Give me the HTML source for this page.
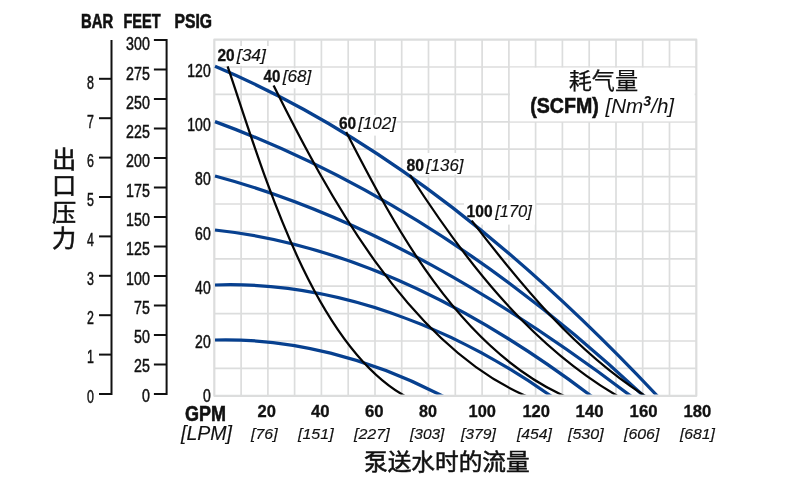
<!DOCTYPE html><html><head><meta charset="utf-8"><title>Pump performance chart</title>
<style>html,body{margin:0;padding:0;background:#fff}svg{display:block;will-change:transform;opacity:.999}text{font-family:"Liberation Sans","Noto Sans CJK SC",sans-serif;fill:#111}.cj{font-family:"Liberation Sans","Noto Sans CJK SC",sans-serif;stroke:#111;stroke-width:.55px}.b{font-weight:bold}.hv{stroke:#111;stroke-width:.6px}.lt{stroke-width:.25px}.sb{stroke:#111;stroke-width:.3px}.si{stroke:#111;stroke-width:.15px}.md{stroke:#111;stroke-width:.5px}.i{font-style:italic}</style></head><body>
<svg width="800" height="487" viewBox="0 0 800 487">
<rect width="800" height="487" fill="#fff"/>
<g stroke="#dcdddd" stroke-width="1.7" fill="none">
<line x1="241.1" y1="39.7" x2="241.1" y2="395.8"/>
<line x1="267.9" y1="39.7" x2="267.9" y2="395.8"/>
<line x1="294.6" y1="39.7" x2="294.6" y2="395.8"/>
<line x1="321.4" y1="39.7" x2="321.4" y2="395.8"/>
<line x1="348.2" y1="39.7" x2="348.2" y2="395.8"/>
<line x1="375.0" y1="39.7" x2="375.0" y2="395.8"/>
<line x1="401.7" y1="39.7" x2="401.7" y2="395.8"/>
<line x1="428.5" y1="39.7" x2="428.5" y2="395.8"/>
<line x1="455.3" y1="39.7" x2="455.3" y2="395.8"/>
<line x1="482.1" y1="39.7" x2="482.1" y2="395.8"/>
<line x1="508.9" y1="39.7" x2="508.9" y2="395.8"/>
<line x1="535.6" y1="39.7" x2="535.6" y2="395.8"/>
<line x1="562.4" y1="39.7" x2="562.4" y2="395.8"/>
<line x1="589.2" y1="39.7" x2="589.2" y2="395.8"/>
<line x1="616.0" y1="39.7" x2="616.0" y2="395.8"/>
<line x1="642.7" y1="39.7" x2="642.7" y2="395.8"/>
<line x1="669.5" y1="39.7" x2="669.5" y2="395.8"/>
<line x1="214.3" y1="368.4" x2="696.3" y2="368.4"/>
<line x1="214.3" y1="341.0" x2="696.3" y2="341.0"/>
<line x1="214.3" y1="313.6" x2="696.3" y2="313.6"/>
<line x1="214.3" y1="286.2" x2="696.3" y2="286.2"/>
<line x1="214.3" y1="258.8" x2="696.3" y2="258.8"/>
<line x1="214.3" y1="231.4" x2="696.3" y2="231.4"/>
<line x1="214.3" y1="204.0" x2="696.3" y2="204.0"/>
<line x1="214.3" y1="176.6" x2="696.3" y2="176.6"/>
<line x1="214.3" y1="149.2" x2="696.3" y2="149.2"/>
<line x1="214.3" y1="121.8" x2="696.3" y2="121.8"/>
<line x1="214.3" y1="94.4" x2="696.3" y2="94.4"/>
<line x1="214.3" y1="67.0" x2="696.3" y2="67.0"/>
</g>
<rect x="214.3" y="39.7" width="482.0" height="356.1" fill="none" stroke="#dcdddd" stroke-width="2.2" stroke-linejoin="round"/>
<rect x="216.0" y="46.0" width="53.5" height="19.8" fill="#fff"/>
<rect x="262.0" y="68.3" width="50.0" height="20.0" fill="#fff"/>
<rect x="337.5" y="115.0" width="59.2" height="20.6" fill="#fff"/>
<rect x="405.0" y="153.0" width="60.0" height="21.5" fill="#fff"/>
<rect x="464.0" y="200.0" width="71.0" height="24.6" fill="#fff"/>
<rect x="510.0" y="67.7" width="184.7" height="53.7" fill="#fff"/>
<clipPath id="plot"><rect x="213" y="38" width="486" height="356.5"/></clipPath>
<g fill="none" stroke="#07408f" stroke-width="3.25" clip-path="url(#plot)">
<path d="M215.0 66.3C385.4 138.2 530.2 261.2 656.0 394.5l4.1 4.4"/>
<path d="M215.0 121.6C374.8 180.4 518.3 278.4 642.0 394.5l4.4 4.1"/>
<path d="M215.0 176.0C365.6 216.3 505.2 301.3 628.8 394.5l4.8 3.6"/>
<path d="M215.0 230.0C353.0 244.8 479.8 311.8 589.2 394.5l4.8 3.6"/>
<path d="M215.0 285.0C334.8 280.9 451.8 326.4 548.8 394.5l4.9 3.4"/>
<path d="M215.0 340.0C292.9 337.9 370.5 359.1 439.5 394.5l5.3 2.7"/>
</g>
<g fill="none" stroke="#050505" stroke-width="2.25" clip-path="url(#plot)">
<path d="M227.6 66.4C261.0 164.1 309.8 339.5 402.3 394.5l5.2 3.1"/>
<path d="M273.6 85.6C328.0 195.1 407.5 342.4 522.7 394.5l5.5 2.5"/>
<path d="M346.2 132.1C395.9 229.2 458.4 345.8 561.0 394.5l5.4 2.6"/>
<path d="M410.0 175.0C464.2 259.3 527.7 342.3 615.0 394.5l5.1 3.1"/>
<path d="M471.7 220.6C521.4 285.3 573.8 349.5 643.0 394.5l5.0 3.3"/>
</g>
<g stroke="#111" stroke-width="2" fill="none">
<path d="M111.5 40V395"/>
<path d="M153.9 40H166.6V395"/>
<path d="M99 394.0H111.5"/>
<path d="M99 354.6H111.5"/>
<path d="M99 315.2H111.5"/>
<path d="M99 275.8H111.5"/>
<path d="M99 236.4H111.5"/>
<path d="M99 197.0H111.5"/>
<path d="M99 157.6H111.5"/>
<path d="M99 118.2H111.5"/>
<path d="M99 78.8H111.5"/>
<path d="M153.9 394.0H166.6"/>
<path d="M153.9 364.5H166.6"/>
<path d="M153.9 335.0H166.6"/>
<path d="M153.9 305.5H166.6"/>
<path d="M153.9 276.0H166.6"/>
<path d="M153.9 246.5H166.6"/>
<path d="M153.9 217.0H166.6"/>
<path d="M153.9 187.5H166.6"/>
<path d="M153.9 158.0H166.6"/>
<path d="M153.9 128.5H166.6"/>
<path d="M153.9 99.0H166.6"/>
<path d="M153.9 69.5H166.6"/>
</g>
<text x="81.0" y="27.9" font-size="19.5" class="b hv" textLength="32.2" lengthAdjust="spacingAndGlyphs">BAR</text>
<text x="123.5" y="27.9" font-size="19.5" class="b hv" textLength="37.0" lengthAdjust="spacingAndGlyphs">FEET</text>
<text x="174.4" y="27.9" font-size="19.5" class="b hv" textLength="37.6" lengthAdjust="spacingAndGlyphs">PSIG</text>
<text x="93.8" y="402.5" font-size="18.5" class="md" text-anchor="end" textLength="6.9" lengthAdjust="spacingAndGlyphs">0</text>
<text x="93.8" y="363.2" font-size="18.5" class="md" text-anchor="end" textLength="6.9" lengthAdjust="spacingAndGlyphs">1</text>
<text x="93.8" y="324.0" font-size="18.5" class="md" text-anchor="end" textLength="6.9" lengthAdjust="spacingAndGlyphs">2</text>
<text x="93.8" y="284.8" font-size="18.5" class="md" text-anchor="end" textLength="6.9" lengthAdjust="spacingAndGlyphs">3</text>
<text x="93.8" y="245.5" font-size="18.5" class="md" text-anchor="end" textLength="6.9" lengthAdjust="spacingAndGlyphs">4</text>
<text x="93.8" y="206.2" font-size="18.5" class="md" text-anchor="end" textLength="6.9" lengthAdjust="spacingAndGlyphs">5</text>
<text x="93.8" y="167.0" font-size="18.5" class="md" text-anchor="end" textLength="6.9" lengthAdjust="spacingAndGlyphs">6</text>
<text x="93.8" y="127.8" font-size="18.5" class="md" text-anchor="end" textLength="6.9" lengthAdjust="spacingAndGlyphs">7</text>
<text x="93.8" y="88.5" font-size="18.5" class="md" text-anchor="end" textLength="6.9" lengthAdjust="spacingAndGlyphs">8</text>
<text x="149.8" y="401.7" font-size="18.5" class="md" text-anchor="end" textLength="7.9" lengthAdjust="spacingAndGlyphs">0</text>
<text x="149.8" y="372.4" font-size="18.5" class="md" text-anchor="end" textLength="15.8" lengthAdjust="spacingAndGlyphs">25</text>
<text x="149.8" y="343.1" font-size="18.5" class="md" text-anchor="end" textLength="15.8" lengthAdjust="spacingAndGlyphs">50</text>
<text x="149.8" y="313.8" font-size="18.5" class="md" text-anchor="end" textLength="15.8" lengthAdjust="spacingAndGlyphs">75</text>
<text x="149.8" y="284.5" font-size="18.5" class="md" text-anchor="end" textLength="23.7" lengthAdjust="spacingAndGlyphs">100</text>
<text x="149.8" y="255.2" font-size="18.5" class="md" text-anchor="end" textLength="23.7" lengthAdjust="spacingAndGlyphs">125</text>
<text x="149.8" y="226.0" font-size="18.5" class="md" text-anchor="end" textLength="23.7" lengthAdjust="spacingAndGlyphs">150</text>
<text x="149.8" y="196.7" font-size="18.5" class="md" text-anchor="end" textLength="23.7" lengthAdjust="spacingAndGlyphs">175</text>
<text x="149.8" y="167.4" font-size="18.5" class="md" text-anchor="end" textLength="23.7" lengthAdjust="spacingAndGlyphs">200</text>
<text x="149.8" y="138.1" font-size="18.5" class="md" text-anchor="end" textLength="23.7" lengthAdjust="spacingAndGlyphs">225</text>
<text x="149.8" y="108.8" font-size="18.5" class="md" text-anchor="end" textLength="23.7" lengthAdjust="spacingAndGlyphs">250</text>
<text x="149.8" y="79.5" font-size="18.5" class="md" text-anchor="end" textLength="23.7" lengthAdjust="spacingAndGlyphs">275</text>
<text x="149.8" y="50.2" font-size="18.5" class="md" text-anchor="end" textLength="23.7" lengthAdjust="spacingAndGlyphs">300</text>
<text x="210.7" y="401.7" font-size="18.5" class="md" text-anchor="end" textLength="7.8" lengthAdjust="spacingAndGlyphs">0</text>
<text x="210.7" y="347.6" font-size="18.5" class="md" text-anchor="end" textLength="15.6" lengthAdjust="spacingAndGlyphs">20</text>
<text x="210.7" y="293.5" font-size="18.5" class="md" text-anchor="end" textLength="15.6" lengthAdjust="spacingAndGlyphs">40</text>
<text x="210.7" y="239.5" font-size="18.5" class="md" text-anchor="end" textLength="15.6" lengthAdjust="spacingAndGlyphs">60</text>
<text x="210.7" y="185.4" font-size="18.5" class="md" text-anchor="end" textLength="15.6" lengthAdjust="spacingAndGlyphs">80</text>
<text x="210.7" y="131.3" font-size="18.5" class="md" text-anchor="end" textLength="23.4" lengthAdjust="spacingAndGlyphs">100</text>
<text x="210.7" y="77.2" font-size="18.5" class="md" text-anchor="end" textLength="23.4" lengthAdjust="spacingAndGlyphs">120</text>
<text x="64.2" y="168.0" font-size="24.2" class="cj" text-anchor="middle">出</text>
<text x="64.2" y="194.4" font-size="24.2" class="cj" text-anchor="middle">口</text>
<text x="64.2" y="220.8" font-size="24.2" class="cj" text-anchor="middle">压</text>
<text x="64.2" y="247.2" font-size="24.2" class="cj" text-anchor="middle">力</text>
<text x="185.0" y="421.3" font-size="21.4" class="b hv" textLength="41.0" lengthAdjust="spacingAndGlyphs">GPM</text>
<text x="181.0" y="440.1" font-size="20.0" class="i si" textLength="51.0" lengthAdjust="spacingAndGlyphs">[LPM]</text>
<text x="257.6" y="417.4" font-size="16.4" class="b sb" textLength="18.4" lengthAdjust="spacingAndGlyphs">20</text>
<text x="311.0" y="417.4" font-size="16.4" class="b sb" textLength="18.6" lengthAdjust="spacingAndGlyphs">40</text>
<text x="365.0" y="417.4" font-size="16.4" class="b sb" textLength="18.6" lengthAdjust="spacingAndGlyphs">60</text>
<text x="419.0" y="417.4" font-size="16.4" class="b sb" textLength="18.0" lengthAdjust="spacingAndGlyphs">80</text>
<text x="468.6" y="417.4" font-size="16.4" class="b sb" textLength="27.4" lengthAdjust="spacingAndGlyphs">100</text>
<text x="522.4" y="417.4" font-size="16.4" class="b sb" textLength="27.6" lengthAdjust="spacingAndGlyphs">120</text>
<text x="575.6" y="417.4" font-size="16.4" class="b sb" textLength="28.0" lengthAdjust="spacingAndGlyphs">140</text>
<text x="629.6" y="417.4" font-size="16.4" class="b sb" textLength="28.0" lengthAdjust="spacingAndGlyphs">160</text>
<text x="683.6" y="417.4" font-size="16.4" class="b sb" textLength="27.8" lengthAdjust="spacingAndGlyphs">180</text>
<text x="251.0" y="439.0" font-size="14.2" class="i si" textLength="26.6" lengthAdjust="spacingAndGlyphs">[76]</text>
<text x="298.0" y="439.0" font-size="14.2" class="i si" textLength="35.6" lengthAdjust="spacingAndGlyphs">[151]</text>
<text x="354.0" y="439.0" font-size="14.2" class="i si" textLength="35.6" lengthAdjust="spacingAndGlyphs">[227]</text>
<text x="410.0" y="439.0" font-size="14.2" class="i si" textLength="34.4" lengthAdjust="spacingAndGlyphs">[303]</text>
<text x="461.0" y="439.0" font-size="14.2" class="i si" textLength="35.0" lengthAdjust="spacingAndGlyphs">[379]</text>
<text x="517.0" y="439.0" font-size="14.2" class="i si" textLength="35.0" lengthAdjust="spacingAndGlyphs">[454]</text>
<text x="568.0" y="439.0" font-size="14.2" class="i si" textLength="35.6" lengthAdjust="spacingAndGlyphs">[530]</text>
<text x="624.0" y="439.0" font-size="14.2" class="i si" textLength="35.4" lengthAdjust="spacingAndGlyphs">[606]</text>
<text x="680.0" y="439.0" font-size="14.2" class="i si" textLength="35.0" lengthAdjust="spacingAndGlyphs">[681]</text>
<text x="364.0" y="469.6" font-size="22.6" class="cj" textLength="165.6" lengthAdjust="spacingAndGlyphs">泵送水时的流量</text>
<text x="217.5" y="61.4" font-size="16.3" class="b sb" textLength="17.2" lengthAdjust="spacingAndGlyphs">20</text>
<text x="236.8" y="61.4" font-size="16.0" class="i si" textLength="29.1" lengthAdjust="spacingAndGlyphs">[34]</text>
<text x="263.6" y="82.0" font-size="16.3" class="b sb" textLength="16.8" lengthAdjust="spacingAndGlyphs">40</text>
<text x="282.8" y="82.0" font-size="16.0" class="i si" textLength="28.5" lengthAdjust="spacingAndGlyphs">[68]</text>
<text x="338.9" y="128.7" font-size="16.3" class="b sb" textLength="17.2" lengthAdjust="spacingAndGlyphs">60</text>
<text x="358.2" y="128.7" font-size="16.0" class="i si" textLength="37.8" lengthAdjust="spacingAndGlyphs">[102]</text>
<text x="406.5" y="171.3" font-size="16.3" class="b sb" textLength="17.5" lengthAdjust="spacingAndGlyphs">80</text>
<text x="426.0" y="171.3" font-size="16.0" class="i si" textLength="37.5" lengthAdjust="spacingAndGlyphs">[136]</text>
<text x="466.6" y="216.5" font-size="16.3" class="b sb" textLength="26.0" lengthAdjust="spacingAndGlyphs">100</text>
<text x="495.2" y="216.5" font-size="16.0" class="i si" textLength="36.6" lengthAdjust="spacingAndGlyphs">[170]</text>
<text x="568.7" y="88.6" font-size="22.2" class="cj lt" textLength="69.4" lengthAdjust="spacingAndGlyphs">耗气量</text>
<text x="530.2" y="112.6" font-size="22.0" class="b hv" textLength="68.6" lengthAdjust="spacingAndGlyphs">(SCFM)</text>
<text x="605.5" y="112.6" font-size="20.4" class="i" textLength="68.6" lengthAdjust="spacingAndGlyphs">[Nm<tspan class="b" font-size="14" dy="-6.6">3</tspan><tspan dy="6.6">/h]</tspan></text>
</svg></body></html>
